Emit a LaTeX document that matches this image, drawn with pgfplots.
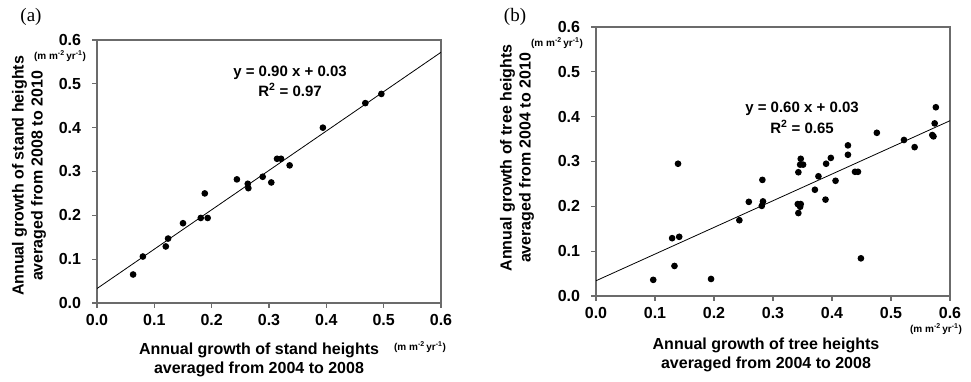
\documentclass[border=0pt]{standalone}
\usepackage{fontspec}
\setmainfont{Liberation Sans}
\newfontfamily\seriffont{Liberation Serif}
\usepackage{pgfplots}
\pgfplotsset{compat=1.18}
\newcommand\lab{\bfseries\fontsize{16}{19}\selectfont}
\newcommand\eqf{\bfseries\fontsize{15}{17}\selectfont}
\newcommand\unitf{\bfseries\fontsize{10}{12}\selectfont}
\newcommand\unit{(m m\textsuperscript{-2}\,yr\textsuperscript{-1})}
\definecolor{frame}{gray}{0.42}

\pgfplotstableread{
x y
0.063 0.065
0.080 0.106
0.120 0.129
0.124 0.147
0.150 0.182
0.181 0.194
0.193 0.194
0.188 0.250
0.244 0.282
0.263 0.272
0.264 0.262
0.289 0.288
0.304 0.275
0.314 0.329
0.321 0.329
0.336 0.314
0.394 0.400
0.468 0.456
0.496 0.477
}\dataA

\pgfplotstableread{
x y
0.097 0.036
0.129 0.129
0.141 0.132
0.133 0.067
0.139 0.295
0.195 0.038
0.243 0.169
0.259 0.210
0.282 0.259
0.283 0.211
0.281 0.201
0.342 0.205
0.347 0.205
0.346 0.199
0.343 0.185
0.343 0.276
0.347 0.306
0.346 0.293
0.351 0.293
0.371 0.237
0.377 0.267
0.389 0.215
0.390 0.295
0.398 0.308
0.406 0.257
0.427 0.336
0.427 0.315
0.439 0.277
0.444 0.277
0.449 0.084
0.476 0.364
0.522 0.348
0.540 0.332
0.570 0.359
0.572 0.356
0.574 0.385
0.576 0.421
}\dataB

\pgfplotsset{
  myaxis/.style={
    scale only axis,
    anchor=south west,
    xmin=0, xmax=0.6, ymin=0, ymax=0.6,
    xtick={0,0.1,0.2,0.3,0.4,0.5,0.6},
    ytick={0,0.1,0.2,0.3,0.4,0.5,0.6},
    /pgf/number format/assume math mode=true,
    xticklabel={\pgfmathprintnumber[fixed,fixed zerofill,precision=1]{\tick}},
    yticklabel={\pgfmathprintnumber[fixed,fixed zerofill,precision=1]{\tick}},
    ticklabel style={font=\bfseries\fontsize{16}{16}\selectfont, text=black},
    tick align=outside,
    tick pos=left,
    major tick length=5pt,
    tick style={draw=frame, line width=1.2pt},
    axis line style={draw=frame, line width=1.2pt},
    every axis/.append style={line width=1.2pt},
    yticklabel style={xshift=-7pt},
    xticklabel style={yshift=-2pt},
  }
}

\begin{document}
\begin{tikzpicture}
\path[use as bounding box] (0pt,0pt) rectangle (971pt,382pt);

% Panel (a)
\begin{axis}[myaxis, at={(97pt,79pt)}, width=344pt, height=263pt]
  \addplot[black, line width=0.8pt, no marks] coordinates {(0,0.033) (0.6,0.572)};
  \addplot[only marks, mark=*, mark size=2.7pt, black] table[x=x,y=y] {\dataA};
\end{axis}

% Panel (b)
\begin{axis}[myaxis, at={(596pt,86pt)}, width=354pt, height=269pt]
  \addplot[black, line width=0.8pt, no marks] coordinates {(0,0.034) (0.6,0.391)};
  \addplot[only marks, mark=*, mark size=2.7pt, black] table[x=x,y=y] {\dataB};
\end{axis}

% Panel labels
\node[font=\seriffont\fontsize{19}{19}\selectfont] at (31pt,365pt) {(a)};
\node[font=\seriffont\fontsize{19}{19}\selectfont] at (515pt,365pt) {(b)};

% Axis labels (a)
\node[rotate=90, align=center, font=\lab] at (29pt,206pt) {Annual growth of stand heights\\averaged from 2008 to 2010};
\node[align=center, font=\lab] at (259pt,22pt) {Annual growth of stand heights\\averaged from 2004 to 2008};
\node[font=\unitf] at (420pt,35pt) {\unit};
\node[font=\unitf] at (60pt,326pt) {\unit};

% Axis labels (b)
\node[rotate=90, align=center, font=\lab] at (517pt,224pt) {Annual growth of tree heights\\averaged from 2004 to 2010};
\node[align=center, font=\lab] at (766pt,27pt) {Annual growth of tree heights\\averaged from 2004 to 2008};
\node[font=\unitf, inner sep=1pt] at (936pt,53pt) {\unit};
\node[font=\unitf] at (557pt,339pt) {\unit};

% Equations
\node[font=\eqf] at (290pt,309pt) {y = 0.90 x + 0.03};
\node[font=\eqf] at (290pt,292pt) {R\textsuperscript{2} = 0.97};
\node[font=\eqf] at (802pt,273pt) {y = 0.60 x + 0.03};
\node[font=\eqf] at (802pt,255pt) {R\textsuperscript{2} = 0.65};
\end{tikzpicture}
\end{document}
